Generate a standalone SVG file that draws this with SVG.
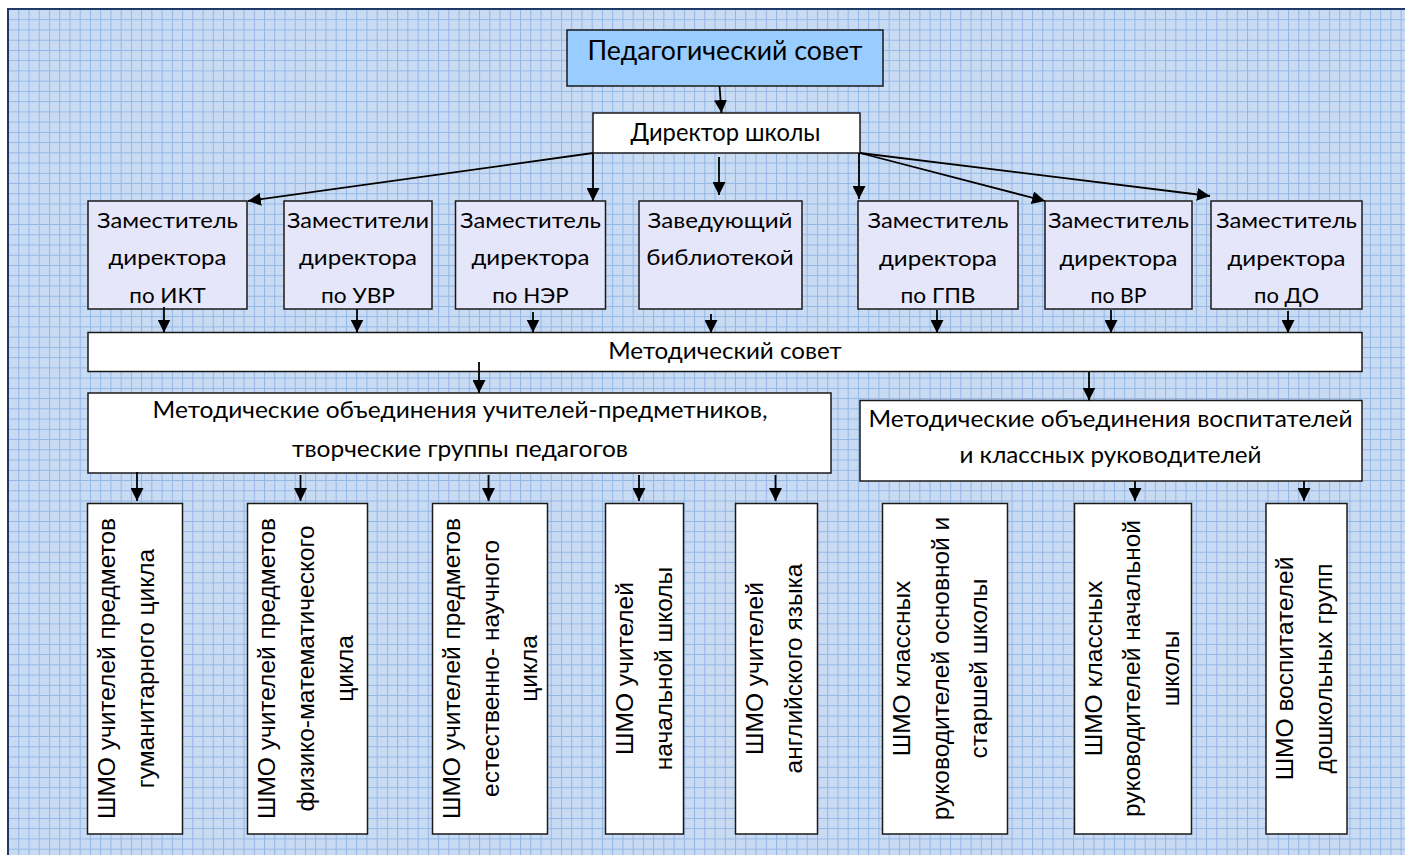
<svg xmlns="http://www.w3.org/2000/svg" width="1405" height="855" viewBox="0 0 1405 855">
<defs>
<pattern id="grid" x="8" y="9" width="10.24" height="10.24" patternUnits="userSpaceOnUse">
<rect width="10.24" height="10.24" fill="#C9DBF2"/>
<path d="M0,0.5 H10.24 M0.5,0 V10.24" stroke="#92B6E6" stroke-width="1" fill="none"/>
</pattern>
<marker id="ah" markerWidth="13" markerHeight="13" refX="13" refY="6.5" orient="auto" markerUnits="userSpaceOnUse">
<path d="M0,0 L13,6.5 L0,13 z" fill="#000"/>
</marker>
</defs>
<style>
.box{stroke:#1a1a1a;stroke-width:1.5}
.w{fill:#ffffff}
.d{fill:#E6E6FA}
.top{fill:#99CCFF}
.t{font-family:"Lato","Carlito","Open Sans",sans-serif;fill:#000;text-anchor:middle}
.v{font-family:"Liberation Sans",Arial,sans-serif;font-size:24.5px;fill:#000;text-anchor:middle}
.c line{stroke:#000;stroke-width:1.8;marker-end:url(#ah)}
</style>
<rect x="0" y="0" width="1405" height="855" fill="#ffffff"/>
<rect x="8" y="9" width="1397" height="846" fill="url(#grid)"/>
<path d="M8,855 V9 H1405" fill="none" stroke="#1F3A64" stroke-width="2"/>

<g id="ped-sovet">
<rect class="box top" x="567" y="30" width="316" height="56"/>
<text class="t" x="725" y="60" font-size="26" textLength="275" lengthAdjust="spacingAndGlyphs">Педагогический совет</text>
</g>
<g id="direktor">
<rect class="box w" x="593" y="113" width="267" height="40"/>
<text class="t" x="725.5" y="140.5" font-size="25" textLength="190" lengthAdjust="spacingAndGlyphs">Директор школы</text>
</g>

<g id="zam-ikt">
<rect class="box d" x="88" y="201" width="159" height="108"/>
<text class="t" font-size="21.5"><tspan x="167.5" y="227.5" textLength="141" lengthAdjust="spacingAndGlyphs">Заместитель</tspan><tspan x="167.5" y="265" textLength="118" lengthAdjust="spacingAndGlyphs">директора</tspan><tspan x="167.5" y="302.5" textLength="76.5" lengthAdjust="spacingAndGlyphs">по ИКТ</tspan></text>
</g>
<g id="zam-uvr">
<rect class="box d" x="284" y="201" width="148" height="108"/>
<text class="t" font-size="21.5"><tspan x="358" y="227.5" textLength="142" lengthAdjust="spacingAndGlyphs">Заместители</tspan><tspan x="358" y="265" textLength="118" lengthAdjust="spacingAndGlyphs">директора</tspan><tspan x="358" y="302.5" textLength="74" lengthAdjust="spacingAndGlyphs">по УВР</tspan></text>
</g>
<g id="zam-ner">
<rect class="box d" x="455.5" y="201" width="150" height="108"/>
<text class="t" font-size="21.5"><tspan x="530.5" y="227.5" textLength="141" lengthAdjust="spacingAndGlyphs">Заместитель</tspan><tspan x="530.5" y="265" textLength="118" lengthAdjust="spacingAndGlyphs">директора</tspan><tspan x="530.5" y="302.5" textLength="76.5" lengthAdjust="spacingAndGlyphs">по НЭР</tspan></text>
</g>
<g id="zav-bibl">
<rect class="box d" x="639" y="201" width="163" height="108"/>
<text class="t" font-size="21.5"><tspan x="720" y="227.5" textLength="145" lengthAdjust="spacingAndGlyphs">Заведующий</tspan><tspan x="720" y="265" textLength="147.5" lengthAdjust="spacingAndGlyphs">библиотекой</tspan></text>
</g>
<g id="zam-gpv">
<rect class="box d" x="858" y="201" width="160" height="108"/>
<text class="t" font-size="21.5"><tspan x="938" y="228" textLength="141" lengthAdjust="spacingAndGlyphs">Заместитель</tspan><tspan x="938" y="265.5" textLength="118" lengthAdjust="spacingAndGlyphs">директора</tspan><tspan x="938" y="303" textLength="75" lengthAdjust="spacingAndGlyphs">по ГПВ</tspan></text>
</g>
<g id="zam-vr">
<rect class="box d" x="1045" y="201" width="147" height="108"/>
<text class="t" font-size="21.5"><tspan x="1118.5" y="228" textLength="141" lengthAdjust="spacingAndGlyphs">Заместитель</tspan><tspan x="1118.5" y="265.5" textLength="118" lengthAdjust="spacingAndGlyphs">директора</tspan><tspan x="1118.5" y="303" textLength="56" lengthAdjust="spacingAndGlyphs">по ВР</tspan></text>
</g>
<g id="zam-do">
<rect class="box d" x="1211" y="201" width="151" height="108"/>
<text class="t" font-size="21.5"><tspan x="1286.5" y="228" textLength="141" lengthAdjust="spacingAndGlyphs">Заместитель</tspan><tspan x="1286.5" y="265.5" textLength="118" lengthAdjust="spacingAndGlyphs">директора</tspan><tspan x="1286.5" y="303" textLength="65" lengthAdjust="spacingAndGlyphs">по ДО</tspan></text>
</g>

<g id="metod-sovet">
<rect class="box w" x="88" y="332.5" width="1274" height="39"/>
<text class="t" x="725" y="358.5" font-size="23" textLength="233.5" lengthAdjust="spacingAndGlyphs">Методический совет</text>
</g>

<g id="mo-predmet">
<rect class="box w" x="88" y="393" width="743" height="80"/>
<text class="t" font-size="23"><tspan x="460" y="418" textLength="615" lengthAdjust="spacingAndGlyphs">Методические объединения учителей-предметников,</tspan><tspan x="460" y="457" textLength="336" lengthAdjust="spacingAndGlyphs">творческие группы педагогов</tspan></text>
</g>
<g id="mo-vospit">
<rect class="box w" x="860" y="400.5" width="502" height="80.5"/>
<text class="t" font-size="23"><tspan x="1110.5" y="426.5" textLength="484" lengthAdjust="spacingAndGlyphs">Методические объединения воспитателей</tspan><tspan x="1110.5" y="463" textLength="302" lengthAdjust="spacingAndGlyphs">и классных руководителей</tspan></text>
</g>

<g id="shmo-gum">
<rect class="box w" x="87.5" y="503.5" width="95" height="330.5"/>
<text class="v" transform="rotate(-90)"><tspan x="-668.5" y="115">ШМО учителей предметов</tspan><tspan x="-668.5" y="154">гуманитарного цикла</tspan></text>
</g>
<g id="shmo-fizmat">
<rect class="box w" x="247.5" y="503.5" width="120" height="330.5"/>
<text class="v" transform="rotate(-90)"><tspan x="-668.5" y="275">ШМО учителей предметов</tspan><tspan x="-668.5" y="314">физико-математического</tspan><tspan x="-668.5" y="353">цикла</tspan></text>
</g>
<g id="shmo-estnauch">
<rect class="box w" x="432.5" y="503.5" width="115" height="330.5"/>
<text class="v" transform="rotate(-90)"><tspan x="-668.5" y="460">ШМО учителей предметов</tspan><tspan x="-668.5" y="498.5">естественно- научного</tspan><tspan x="-668.5" y="537">цикла</tspan></text>
</g>
<g id="shmo-nach">
<rect class="box w" x="605.5" y="503.5" width="78" height="330.5"/>
<text class="v" transform="rotate(-90)"><tspan x="-668.5" y="633">ШМО учителей</tspan><tspan x="-668.5" y="672">начальной школы</tspan></text>
</g>
<g id="shmo-angl">
<rect class="box w" x="735.5" y="503.5" width="82" height="330.5"/>
<text class="v" transform="rotate(-90)"><tspan x="-668.5" y="763">ШМО учителей</tspan><tspan x="-668.5" y="802">английского языка</tspan></text>
</g>
<g id="shmo-kl-osn">
<rect class="box w" x="882.5" y="503.5" width="125" height="330.5"/>
<text class="v" transform="rotate(-90)"><tspan x="-668.5" y="910">ШМО классных</tspan><tspan x="-668.5" y="948.5">руководителей основной и</tspan><tspan x="-668.5" y="987">старшей школы</tspan></text>
</g>
<g id="shmo-kl-nach">
<rect class="box w" x="1074.5" y="503.5" width="117" height="330.5"/>
<text class="v" transform="rotate(-90)"><tspan x="-668.5" y="1102">ШМО классных</tspan><tspan x="-668.5" y="1140">руководителей начальной</tspan><tspan x="-668.5" y="1178.5">школы</tspan></text>
</g>
<g id="shmo-vospit">
<rect class="box w" x="1266" y="503.5" width="81" height="330.5"/>
<text class="v" transform="rotate(-90)"><tspan x="-668.5" y="1293">ШМО воспитателей</tspan><tspan x="-668.5" y="1332">дошкольных групп</tspan></text>
</g>

<g id="connectors" class="c">
<line x1="719.5" y1="86" x2="721.5" y2="113"/>
<line x1="593" y1="153" x2="248" y2="201"/>
<line x1="593" y1="153" x2="593" y2="201"/>
<line x1="719" y1="157" x2="719" y2="195"/>
<line x1="859" y1="153" x2="859" y2="199"/>
<line x1="860" y1="153" x2="1045" y2="201"/>
<line x1="860" y1="153" x2="1210" y2="196"/>
<line x1="164" y1="307" x2="164" y2="332.5"/>
<line x1="357" y1="309" x2="357" y2="332.5"/>
<line x1="533" y1="312" x2="533" y2="332.5"/>
<line x1="711" y1="314" x2="711" y2="333"/>
<line x1="937" y1="310" x2="937" y2="333"/>
<line x1="1111" y1="310" x2="1111" y2="333"/>
<line x1="1288" y1="311" x2="1288" y2="333"/>
<line x1="479" y1="362" x2="479" y2="393"/>
<line x1="1089" y1="372" x2="1089" y2="400.5"/>
<line x1="137" y1="472" x2="137" y2="501"/>
<line x1="300.5" y1="475" x2="300.5" y2="501"/>
<line x1="488.5" y1="475" x2="488.5" y2="501"/>
<line x1="639" y1="475" x2="639" y2="501"/>
<line x1="775.5" y1="475" x2="775.5" y2="501"/>
<line x1="1135" y1="481" x2="1135" y2="501"/>
<line x1="1304" y1="481" x2="1304" y2="501"/>
</g>
</svg>
